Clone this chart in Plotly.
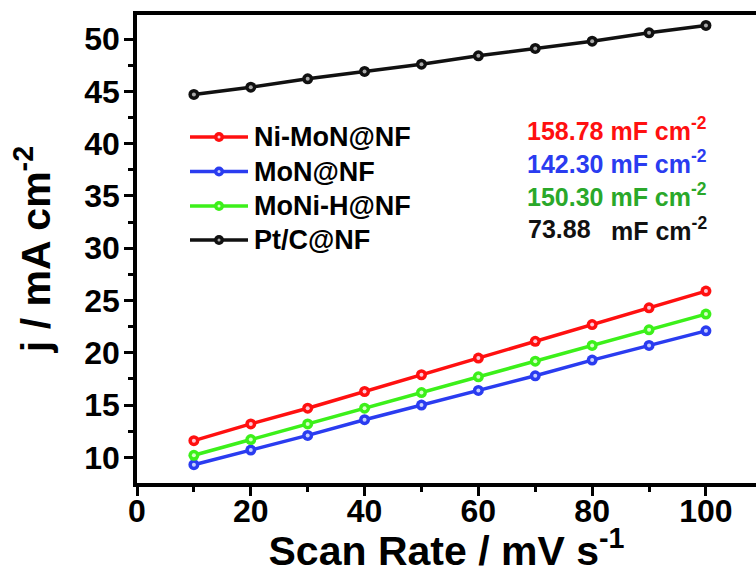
import plotly.graph_objects as go

# Scan rates (mV s^-1)
scan_rate = [10, 20, 30, 40, 50, 60, 70, 80, 90, 100]

# Capacitive current density (mA cm^-2)
ni_mon = [11.6, 13.2, 14.7, 16.3, 17.9, 19.5, 21.1, 22.7, 24.3, 25.9]
mon = [9.3, 10.7, 12.1, 13.6, 15.0, 16.4, 17.8, 19.3, 20.7, 22.1]
moni_h = [10.2, 11.7, 13.2, 14.7, 16.2, 17.7, 19.2, 20.7, 22.2, 23.7]
ptc = [44.7, 45.4, 46.2, 46.9, 47.6, 48.4, 49.1, 49.8, 50.6, 51.3]

names = ["Ni-MoN@NF", "MoN@NF", "MoNi-H@NF", "Pt/C@NF"]
cdl_values = ["158.78", "142.30", "150.30", "73.88"]

line_colors = ["#ff1010", "#2a3cf0", "#3cf01a", "#111111"]
text_colors = ["#ff1010", "#2a3cf0", "#2aa82a", "#111111"]
highlight = ["#ffc8d8", "#c8d0ff", "#d8ffc8", "#aaaaaa"]

FONT = "Liberation Sans, Arial, sans-serif"

# plot area in pixels (for placing the key and labels in paper coordinates)
L, R, T, B = 137, 756, 15, 483
def px(x):
    return (x - L) / (R - L)
def py(y):
    return (B - y) / (B - T)

fig = go.Figure()
series = [ni_mon, mon, moni_h, ptc]
for i, (name, ys) in enumerate(zip(names, series)):
    fig.add_trace(go.Scatter(
        x=scan_rate, y=ys, name=name, mode="lines+markers",
        line=dict(color=line_colors[i], width=3.5),
        marker=dict(symbol="circle", size=11, color=line_colors[i]),
        showlegend=False,
    ))
    fig.add_trace(go.Scatter(
        x=scan_rate, y=ys, mode="markers", showlegend=False, hoverinfo="skip",
        marker=dict(symbol="circle", size=4, color=highlight[i]),
    ))

shapes = []
annotations = []

# key: line sample with a dot, then the series name
key_rows = [137, 171.5, 206, 240]
for i, name in enumerate(names):
    yk = py(key_rows[i])
    shapes.append(dict(type="line", xref="paper", yref="paper",
                       x0=px(190), x1=px(248), y0=yk, y1=yk,
                       line=dict(color=line_colors[i], width=3.5)))
    shapes.append(dict(type="circle", xref="paper", yref="paper",
                       x0=px(214), x1=px(224),
                       y0=yk - 5 / (B - T), y1=yk + 5 / (B - T),
                       fillcolor=line_colors[i], line=dict(width=0)))
    shapes.append(dict(type="circle", xref="paper", yref="paper",
                       x0=px(217.5), x1=px(220.5),
                       y0=yk - 1.5 / (B - T), y1=yk + 1.5 / (B - T),
                       fillcolor=highlight[i], line=dict(width=0)))
    annotations.append(dict(
        x=px(252), y=yk, xref="paper", yref="paper",
        xanchor="left", yanchor="middle", showarrow=False, text=name,
        font=dict(family=FONT, size=27, color="black", weight="bold"),
    ))

# double-layer capacitance labels
ann_rows = [129, 162, 195, 229]
for i, val in enumerate(cdl_values):
    ya = py(ann_rows[i])
    f = dict(family=FONT, size=25, color=text_colors[i], weight="bold")
    if i < 3:
        annotations.append(dict(
            x=px(709), y=ya, xref="paper", yref="paper",
            xanchor="right", yanchor="middle", showarrow=False,
            text=f"{val} mF cm<sup>-2</sup>", font=f))
    else:
        annotations.append(dict(
            x=px(526), y=ya, xref="paper", yref="paper",
            xanchor="left", yanchor="middle", showarrow=False,
            text=val, font=f))
        annotations.append(dict(
            x=px(709), y=ya, xref="paper", yref="paper",
            xanchor="right", yanchor="middle", showarrow=False,
            text="mF cm<sup>-2</sup>", font=f))

axis_common = dict(
    showline=True, linecolor="black", linewidth=3.5,
    ticks="outside", ticklen=9, tickwidth=3, tickcolor="black",
    showgrid=False, zeroline=False,
    tickfont=dict(family=FONT, size=32, color="black", weight="bold"),
)

fig.update_layout(
    width=756, height=574,
    margin=dict(l=L, r=756 - R, t=T, b=574 - B),
    paper_bgcolor="white", plot_bgcolor="white",
    showlegend=False,
    shapes=shapes,
    annotations=annotations,
    xaxis=dict(
        **axis_common,
        range=[0, 108.8], tickvals=[0, 20, 40, 60, 80, 100],
        minor=dict(tickvals=[10, 30, 50, 70, 90], ticklen=5, tickwidth=3,
                   tickcolor="black", ticks="outside"),
        mirror=True,
        ticklabelstandoff=-12,
        title=dict(text="Scan Rate / mV s<sup>-1</sup>", standoff=0,
                   font=dict(family=FONT, size=41, color="black", weight="bold")),
    ),
    yaxis=dict(
        **axis_common,
        range=[7.55, 52.3], tickvals=[10, 15, 20, 25, 30, 35, 40, 45, 50],
        minor=dict(tickvals=[7.5 + 5 * k for k in range(10)], ticklen=5,
                   tickwidth=3, tickcolor="black", ticks="outside"),
        ticklabelstandoff=-2,
        title=dict(text="j / mA cm<sup>-2</sup>", standoff=22,
                   font=dict(family=FONT, size=41, color="black", weight="bold")),
    ),
)

fig.write_html("out.html")
